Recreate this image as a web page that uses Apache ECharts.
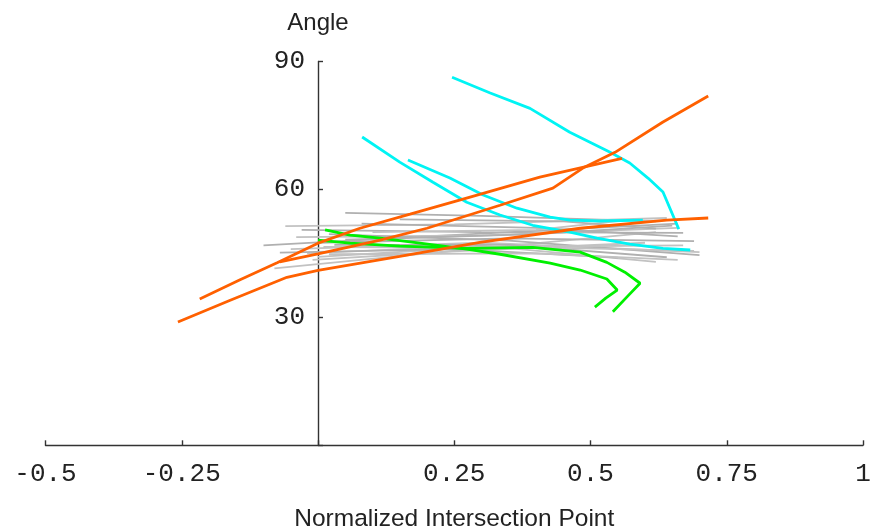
<!DOCTYPE html>
<html>
<head>
<meta charset="utf-8">
<script src="https://cdn.jsdelivr.net/npm/echarts@6/dist/echarts.min.js"></script>
<style>html,body{margin:0;padding:0;background:#fff}#c{width:873px;height:531px}</style>
</head>
<body>
<div id="c"></div>
<script>
const xTicks = [-0.5, -0.25, 0, 0.25, 0.5, 0.75, 1];
const yTicks = [0, 30, 60, 90];

const orangeA = [[-0.217,34.3],[-0.143,38.8],[-0.075,42.8],[0,47.4],[0.077,50.9],[0.169,54.2],[0.279,58.2],[0.407,62.9],[0.558,67.3]];
const orangeB = [[-0.070,43.0],[0,44.9],[0.114,48.1],[0.200,50.9],[0.334,56.3],[0.431,60.3],[0.486,65.0],[0.545,68.7],[0.633,75.8],[0.716,81.9]];
const orangeC = [[-0.257,28.9],[-0.161,34.0],[-0.057,39.4],[0,41.0],[0.150,44.3],[0.297,47.6],[0.481,50.9],[0.640,52.8],[0.716,53.3]];

const cyan1 = [[0.246,86.3],[0.316,82.6],[0.389,79.0],[0.462,73.4],[0.536,68.7],[0.572,66.2],[0.606,62.6],[0.633,59.4],[0.662,50.7]];
const cyan2 = [[0.081,72.3],[0.150,66.4],[0.211,61.7],[0.273,57.0],[0.334,54.0],[0.394,51.6],[0.462,50.0],[0.512,48.6],[0.572,47.2],[0.633,46.2],[0.683,45.8]];
const cyan3 = [[0.165,66.9],[0.242,62.7],[0.303,58.7],[0.365,55.6],[0.426,53.5],[0.462,52.8],[0.517,52.6],[0.596,52.8]];

const greenOuter = [[0,48.1],[0.059,47.4],[0.150,46.7],[0.273,46.2],[0.394,46.4],[0.481,45.3],[0.530,42.9],[0.563,40.6],[0.591,38.0],[0.567,34.8],[0.541,31.3]];
const greenInner = [[0.013,50.5],[0.059,49.3],[0.114,48.6],[0.187,47.4],[0.273,46.0],[0.334,44.8],[0.426,42.7],[0.481,41.1],[0.530,39.0],[0.549,36.4],[0.528,34.5],[0.508,32.4]];

const grayLines = [
  [[0.05,54.5],[0.30,53.8],[0.62,52.5]],
  [[-0.06,51.4],[0.25,51.8],[0.64,53.3]],
  [[-0.10,46.9],[0.20,49.0],[0.66,52.0]],
  [[-0.08,41.5],[0.20,45.0],[0.62,50.0]],
  [[-0.03,50.5],[0.30,50.0],[0.67,49.8]],
  [[-0.04,48.8],[0.30,49.2],[0.66,51.0]],
  [[0.00,47.5],[0.35,48.5],[0.69,47.9]],
  [[-0.05,46.0],[0.30,47.5],[0.70,45.3]],
  [[0.02,49.5],[0.35,48.0],[0.70,44.6]],
  [[-0.02,45.0],[0.30,46.8],[0.62,43.0]],
  [[0.03,47.0],[0.35,47.0],[0.64,44.1]],
  [[0.00,44.2],[0.30,46.5],[0.67,46.9]],
  [[0.08,52.0],[0.40,51.0],[0.66,49.0]],
  [[-0.01,43.5],[0.25,45.5],[0.60,47.5]],
  [[0.05,48.2],[0.40,49.5],[0.65,51.5]],
  [[0.10,50.0],[0.40,50.5],[0.58,53.0]],
  [[-0.07,45.2],[0.25,46.0],[0.55,44.0]],
  [[0.01,46.5],[0.45,46.3],[0.69,45.6]],
  [[0.15,53.0],[0.45,52.5],[0.62,50.8]],
  [[0.02,44.8],[0.40,45.0],[0.66,43.5]]
];

const grayColors = ['#b0b0b0','#c2c2c2'];
const ORANGE = '#ff6000', CYAN = '#00f4f4', GREEN = '#00f000';

function lineSeries(data, color, width, z) {
  return {type:'line', data:data, showSymbol:false, symbol:'none', smooth:false,
    lineStyle:{color:color, width:width}, z:z, silent:true, animation:false};
}

const series = [];
grayLines.forEach((g,i)=>series.push(lineSeries(g, grayColors[i%2], 1.8, 2)));
[greenOuter, greenInner].forEach(d=>series.push(lineSeries(d, GREEN, 2.8, 3)));
[cyan1, cyan2, cyan3].forEach(d=>series.push(lineSeries(d, CYAN, 2.8, 4)));
[orangeA, orangeB, orangeC].forEach(d=>series.push(lineSeries(d, ORANGE, 2.8, 5)));

const GRID_LEFT = 45.5, GRID_RIGHT = 10;
const chart = echarts.init(document.getElementById('c'), null, {renderer:'canvas'});
const plotW = 873 - GRID_LEFT - GRID_RIGHT;
const yAxisShift = plotW * (0 - xTicks[0]) / (xTicks[xTicks.length-1] - xTicks[0]);
chart.setOption({
  animation:false,
  backgroundColor:'#ffffff',
  grid:{left:GRID_LEFT, right:GRID_RIGHT, top:61.5, bottom:85.7, containLabel:false, outerBoundsMode:'none'},
  xAxis:{
    type:'value', min:xTicks[0], max:xTicks[xTicks.length-1], interval:0.25,
    name:'Normalized Intersection Point', nameLocation:'middle', nameGap:61,
    nameTextStyle:{fontFamily:'Liberation Sans', fontSize:24.5, color:'#222'},
    axisLine:{onZero:true, lineStyle:{color:'#333', width:1.4}},
    axisTick:{show:true, inside:true, length:5, lineStyle:{color:'#333', width:1.4}},
    axisLabel:{margin:16, fontFamily:'Liberation Mono', fontSize:26, color:'#222',
      formatter:v=> (Math.abs(v)<1e-9 ? '' : String(v))},
    splitLine:{show:false}
  },
  yAxis:{
    type:'value', min:yTicks[0], max:yTicks[yTicks.length-1], interval:30,
    position:'left', offset:-yAxisShift,
    name:'Angle', nameLocation:'end', nameGap:26,
    nameTextStyle:{fontFamily:'Liberation Sans', fontSize:24, color:'#222', align:'center'},
    axisLine:{onZero:false, lineStyle:{color:'#333', width:1.4}},
    axisTick:{show:true, inside:true, length:5, lineStyle:{color:'#333', width:1.4}},
    axisLabel:{margin:13, fontFamily:'Liberation Mono', fontSize:26, color:'#222',
      formatter:v=> (v===0 ? '' : String(v))},
    splitLine:{show:false}
  },
  series:series
});
</script>
</body>
</html>
